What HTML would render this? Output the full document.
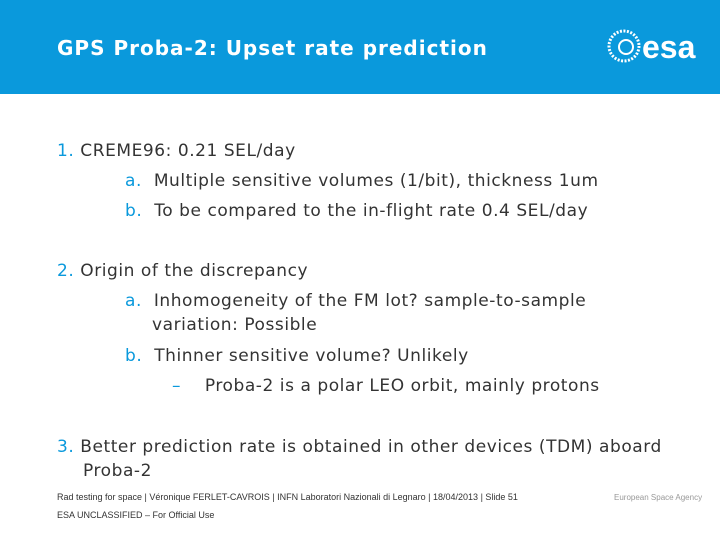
<!DOCTYPE html>
<html><head><meta charset="utf-8"><style>
body{margin:0;width:720px;height:540px;overflow:hidden;background:#fff;font-family:"DejaVu Sans","Liberation Sans",sans-serif;position:relative}
.hdr{position:absolute;left:0;top:0;width:720px;height:94px;background:#0a99dc}
.t{position:absolute;left:57px;top:36px;color:#fff;font-weight:bold;font-size:20px;letter-spacing:1px}
.l{position:absolute;font-size:17px;letter-spacing:0.55px;color:#333;white-space:nowrap;line-height:20px}
.n{color:#0a99dc}
.f{position:absolute;font-size:9px;color:#333;font-family:"Liberation Sans",sans-serif;white-space:nowrap}
</style></head><body>
<div class="hdr">
<div class="t">GPS Proba-2: Upset rate prediction</div>
<svg style="position:absolute;left:606px;top:28px" width="100" height="36">
<circle cx="18" cy="18" r="15" fill="none" stroke="#fff" stroke-width="3" stroke-dasharray="2 1.5"/>
<circle cx="20" cy="19" r="7" fill="none" stroke="#fff" stroke-width="2"/>
<text x="36" y="30" fill="#fff" font-family="Liberation Sans" font-weight="bold" font-size="32">esa</text>
</svg>
</div>
<div class="l" style="left:57px;top:141px"><span class="n">1.</span> CREME96: 0.21 SEL/day</div>
<div class="l" style="left:125px;top:171px"><span class="n">a.</span>&nbsp; Multiple sensitive volumes (1/bit), thickness 1um</div>
<div class="l" style="left:125px;top:201px"><span class="n">b.</span>&nbsp; To be compared to the in-flight rate 0.4 SEL/day</div>
<div class="l" style="left:57px;top:261px"><span class="n">2.</span> Origin of the discrepancy</div>
<div class="l" style="left:125px;top:291px"><span class="n">a.</span>&nbsp; Inhomogeneity of the FM lot? sample-to-sample</div>
<div class="l" style="left:152px;top:315px">variation: Possible</div>
<div class="l" style="left:125px;top:346px"><span class="n">b.</span>&nbsp; Thinner sensitive volume? Unlikely</div>
<div class="l" style="left:172px;top:376px"><span class="n">–</span>&nbsp;&nbsp;&nbsp; Proba-2 is a polar LEO orbit, mainly protons</div>
<div class="l" style="left:57px;top:437px"><span class="n">3.</span> Better prediction rate is obtained in other devices (TDM) aboard</div>
<div class="l" style="left:83px;top:461px">Proba-2</div>
<div class="f" style="left:57px;top:492px">Rad testing for space | Véronique FERLET-CAVROIS | INFN Laboratori Nazionali di Legnaro | 18/04/2013 | Slide 51</div>
<div class="f" style="left:57px;top:510px">ESA UNCLASSIFIED – For Official Use</div>
<div class="f" style="left:614px;top:493px;color:#999;font-size:8px">European Space Agency</div>
</body></html>
